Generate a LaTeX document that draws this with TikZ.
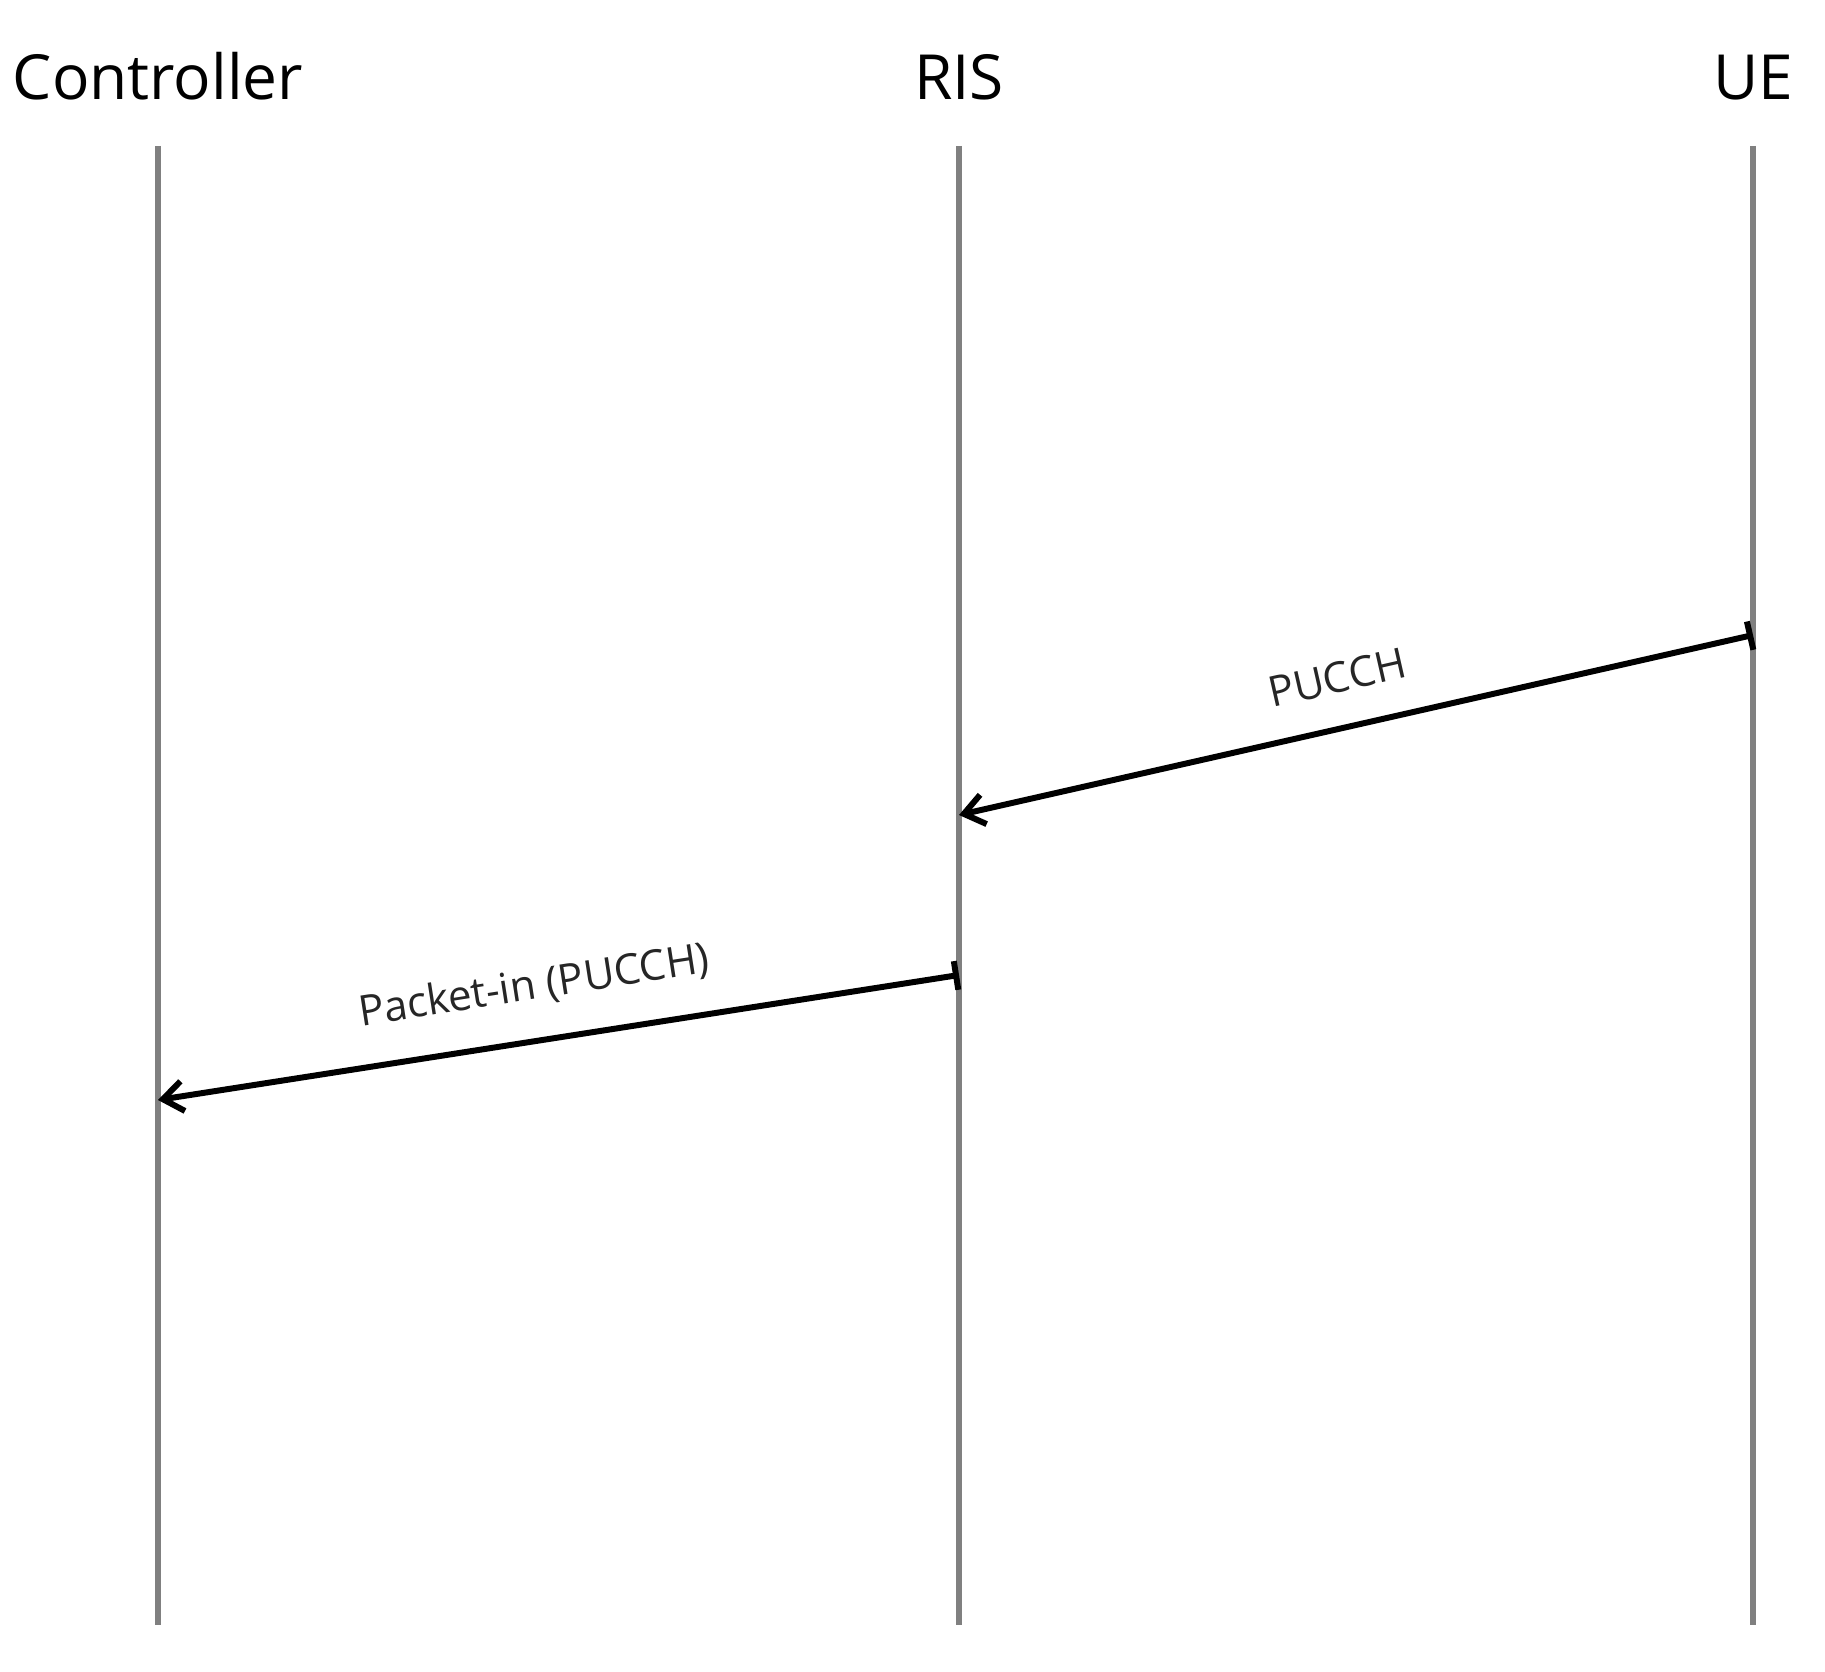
\documentclass[tikz,border=0pt]{standalone}
\usepackage{fontspec}
\setmainfont{Open Sans}
\usetikzlibrary{arrows.meta}

\begin{document}
\begin{tikzpicture}[auto,scale=1.0]
        \tikzstyle{actor}=[font=\fontsize{17.7}{21}\selectfont,anchor=base,inner sep=0pt]
        \tikzstyle{lifeline}=[line width=1.9pt,draw=black!50]
        \tikzstyle{message}=[line width=1.7pt,{Bar[width=2.9mm]}-{Straight Barb[length=2mm,width=3mm]}]
        \tikzstyle{msglabel}=[font=\fontsize{12}{14}\selectfont,text=black!85,sloped,above=2mm]
        \useasboundingbox (0,0) rectangle (18.25,16.71);
        \node [actor] (ctrl) at (1.58, 15.71) {Controller};
        \node [actor] (ris) at (9.59, 15.71) {RIS};
        \node [actor] (ue) at (17.53, 15.71) {UE};
        \coordinate (ctrltop) at (1.58, 15.25);
        \coordinate (ctrlbot) at (1.58, 0.46);
        \coordinate (ristop) at (9.59, 15.25);
        \coordinate (risbot) at (9.59, 0.46);
        \coordinate (uetop) at (17.53, 15.25);
        \coordinate (uebot) at (17.53, 0.46);
        \draw [lifeline] (ctrltop) -- (ctrlbot);
        \draw [lifeline] (ristop) -- (risbot);
        \draw [lifeline] (uetop) -- (uebot);
        \coordinate (uesend) at (17.53, 10.36);
        \coordinate (risrecv) at (9.59, 8.56);
        \coordinate (rissend) at (9.59, 6.96);
        \coordinate (ctrlrecv) at (1.58, 5.71);
        \draw [message] (uesend) -- node [msglabel,pos=0.51] {PUCCH} (risrecv);
        \draw [message] (rissend) -- node [msglabel,pos=0.52] {Packet-in (PUCCH)} (ctrlrecv);
\end{tikzpicture}
\end{document}
